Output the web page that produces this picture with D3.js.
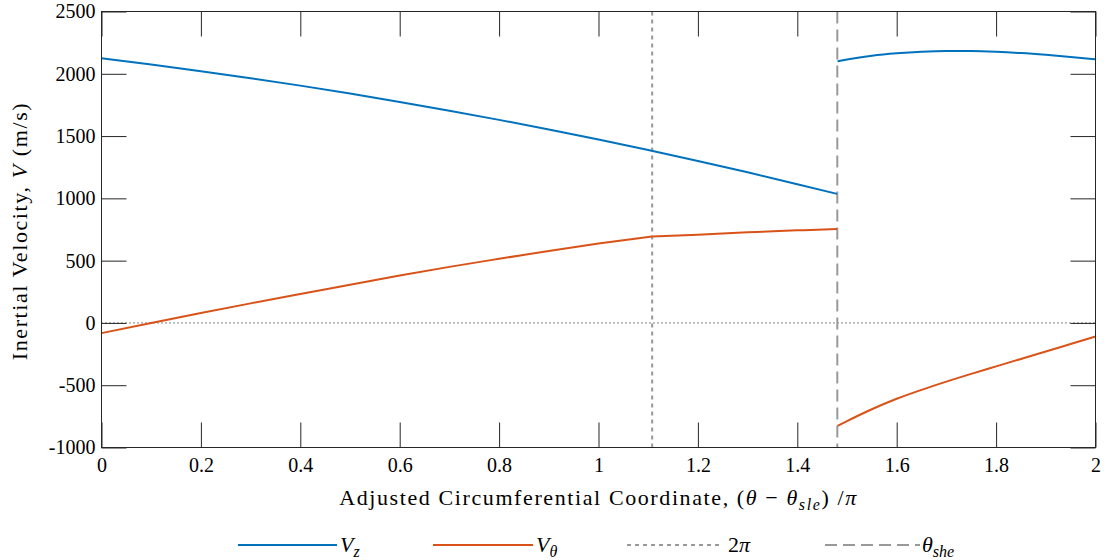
<!DOCTYPE html>
<html>
<head>
<meta charset="utf-8">
<script src="https://cdn.jsdelivr.net/npm/d3@7"></script>
<style>
  html, body { margin: 0; padding: 0; background: #fff; }
  svg { display: block; }
  text { font-family: "Liberation Serif", "DejaVu Serif", serif; fill: #000; }
</style>
</head>
<body>
<svg id="chart" width="1104" height="560"></svg>
<script>
// ---------- data ----------
const xTicks = [0, 0.2, 0.4, 0.6, 0.8, 1, 1.2, 1.4, 1.6, 1.8, 2];
const xTickLabels = ["0", "0.2", "0.4", "0.6", "0.8", "1", "1.2", "1.4", "1.6", "1.8", "2"];
const yTicks = [-1000, -500, 0, 500, 1000, 1500, 2000, 2500];
const yTickLabels = ["-1000", "-500", "0", "500", "1000", "1500", "2000", "2500"];

// V_z, before the shock (theta_she)
const vzT1 = [0, 0.1, 0.2, 0.3, 0.4, 0.5, 0.6, 0.7, 0.8, 0.9, 1.0, 1.1, 1.2, 1.3, 1.4, 1.48];
const vzV1 = [2124, 2074, 2021, 1965, 1905, 1841, 1774, 1704, 1630, 1553, 1472, 1388, 1300, 1209, 1114, 1036];
// V_z, after the shock
const vzT2 = [1.481, 1.5, 1.55, 1.6, 1.65, 1.7, 1.75, 1.8, 1.85, 1.9, 1.95, 2.0];
const vzV2 = [2100, 2114, 2144, 2164, 2177, 2183, 2182, 2176, 2166, 2152, 2135, 2116];

// V_theta, first part (up to 2*pi mark)
const vthT1 = [0, 0.1, 0.2, 0.3, 0.4, 0.5, 0.6, 0.7, 0.8, 0.9, 1.0, 1.108];
const vthV1 = [-82, 0, 80, 157, 232, 306, 380, 450, 515, 578, 637, 693];
// V_theta, second part (2*pi mark to shock)
const vthT2 = [1.108, 1.2, 1.3, 1.4, 1.48];
const vthV2 = [693, 708, 727, 743, 755];
// V_theta, after the shock
const vthT3 = [1.481, 1.5, 1.55, 1.6, 1.65, 1.7, 1.75, 1.8, 1.85, 1.9, 1.95, 2.0];
const vthV3 = [-826, -788, -693, -609, -537, -471, -409, -349, -289, -229, -169, -109];

const twoPiX = 1.108;
const thetaSheX = 1.4805;

// ---------- layout ----------
const svg = d3.select("#chart");
const L = 101.5, R = 1095.5, T = 11.5, B = 447.5;
const x = d3.scaleLinear().domain([0, 2]).range([L, R]);
const y = d3.scaleLinear().domain([-1000, 2500]).range([B, T]);

const blue = "#0072BD", orange = "#D95319", gray = "#999999";
const FS = 20;

// zero line
svg.append("line")
  .attr("x1", x(0)).attr("x2", x(2)).attr("y1", y(0)).attr("y2", y(0))
  .attr("stroke", "#000").attr("stroke-width", 1).attr("stroke-dasharray", "1,3");

// vertical marker lines
svg.append("line")
  .attr("x1", x(twoPiX)).attr("x2", x(twoPiX)).attr("y1", y(2500)).attr("y2", y(-1000))
  .attr("stroke", gray).attr("stroke-width", 2).attr("stroke-dasharray", "4,4");
svg.append("line")
  .attr("x1", x(thetaSheX)).attr("x2", x(thetaSheX)).attr("y1", y(2500)).attr("y2", y(-1000))
  .attr("stroke", gray).attr("stroke-width", 2).attr("stroke-dasharray", "12,6");

// series lines
const line = d3.line().x(d => x(d[0])).y(d => y(d[1])).curve(d3.curveMonotoneX);
function seg(ts, vs, color) {
  svg.append("path")
    .datum(ts.map((t, i) => [t, vs[i]]))
    .attr("d", line)
    .attr("fill", "none")
    .attr("stroke", color)
    .attr("stroke-width", 2)
    .attr("stroke-linejoin", "round");
}
seg(vzT1, vzV1, blue);
seg(vzT2, vzV2, blue);
seg(vthT1, vthV1, orange);
seg(vthT2, vthV2, orange);
seg(vthT3, vthV3, orange);

// axes (ticks inward on all sides)
const axCol = "#262626";
const gB = svg.append("g").attr("transform", `translate(0,${B})`)
  .call(d3.axisBottom(x).tickValues(xTicks).tickFormat((d, i) => xTickLabels[i])
    .tickSizeInner(-25).tickSizeOuter(0).tickPadding(10));
const gT = svg.append("g").attr("transform", `translate(0,${T})`)
  .call(d3.axisTop(x).tickValues(xTicks).tickFormat("")
    .tickSizeInner(-25).tickSizeOuter(0));
const gL = svg.append("g").attr("transform", `translate(${L},0)`)
  .call(d3.axisLeft(y).tickValues(yTicks).tickFormat((d, i) => yTickLabels[i])
    .tickSizeInner(-25).tickSizeOuter(0).tickPadding(6));
const gR = svg.append("g").attr("transform", `translate(${R},0)`)
  .call(d3.axisRight(y).tickValues(yTicks).tickFormat("")
    .tickSizeInner(-25).tickSizeOuter(0));
[gB, gT, gL, gR].forEach(g => {
  g.select(".domain").remove();
  g.selectAll(".tick line").attr("stroke", axCol).attr("stroke-width", 1);
  g.selectAll("text").attr("font-size", FS).attr("fill", "#000");
});
svg.append("rect").attr("x", L).attr("y", T).attr("width", R - L).attr("height", B - T)
  .attr("fill", "none").attr("stroke", axCol).attr("stroke-width", 1);

// x label
const LS = 1.6;
const xl = svg.append("text").attr("x", (L + R) / 2).attr("y", 505)
  .attr("text-anchor", "middle").attr("font-size", 22).attr("letter-spacing", LS);
xl.append("tspan").text("Adjusted Circumferential Coordinate, (");
xl.append("tspan").attr("font-style", "italic").text("θ");
xl.append("tspan").text(" − ");
xl.append("tspan").attr("font-style", "italic").text("θ");
xl.append("tspan").attr("font-style", "italic").attr("font-size", 16).attr("dy", 5).text("sle");
xl.append("tspan").attr("dy", -5).text(") /");
xl.append("tspan").attr("font-style", "italic").text("π");

// y label
const yl = svg.append("text").attr("transform", "translate(27,231) rotate(-90)")
  .attr("text-anchor", "middle").attr("font-size", 22).attr("letter-spacing", LS);
yl.append("tspan").text("Inertial Velocity, ");
yl.append("tspan").attr("font-style", "italic").text("V");
yl.append("tspan").text("  (m/s)");

// legend
const legY = 545;
const legend = [
  { x1: 238, x2: 337, tx: 340, color: blue, dash: null, w: 2, main: "V", sub: "z" },
  { x1: 433, x2: 533, tx: 536, color: orange, dash: null, w: 2, main: "V", sub: "θ" },
  { x1: 627, x2: 722, tx: 728, color: gray, dash: "4,4", w: 2, main: "2π", sub: null },
  { x1: 825, x2: 920, tx: 922, color: gray, dash: "12,6", w: 2, main: "θ", sub: "she" }
];
legend.forEach(d => {
  svg.append("line").attr("x1", d.x1).attr("x2", d.x2).attr("y1", legY).attr("y2", legY)
    .attr("stroke", d.color).attr("stroke-width", d.w)
    .attr("stroke-dasharray", d.dash);
  const t = svg.append("text").attr("x", d.tx).attr("y", legY + 7).attr("font-size", 22);
  if (d.main === "2π") {
    t.append("tspan").text("2");
    t.append("tspan").attr("font-style", "italic").text("π");
  } else {
    t.append("tspan").attr("font-style", "italic").text(d.main);
    t.append("tspan").attr("font-style", "italic").attr("font-size", 16).attr("dy", 5).text(d.sub);
  }
});
</script>
</body>
</html>
